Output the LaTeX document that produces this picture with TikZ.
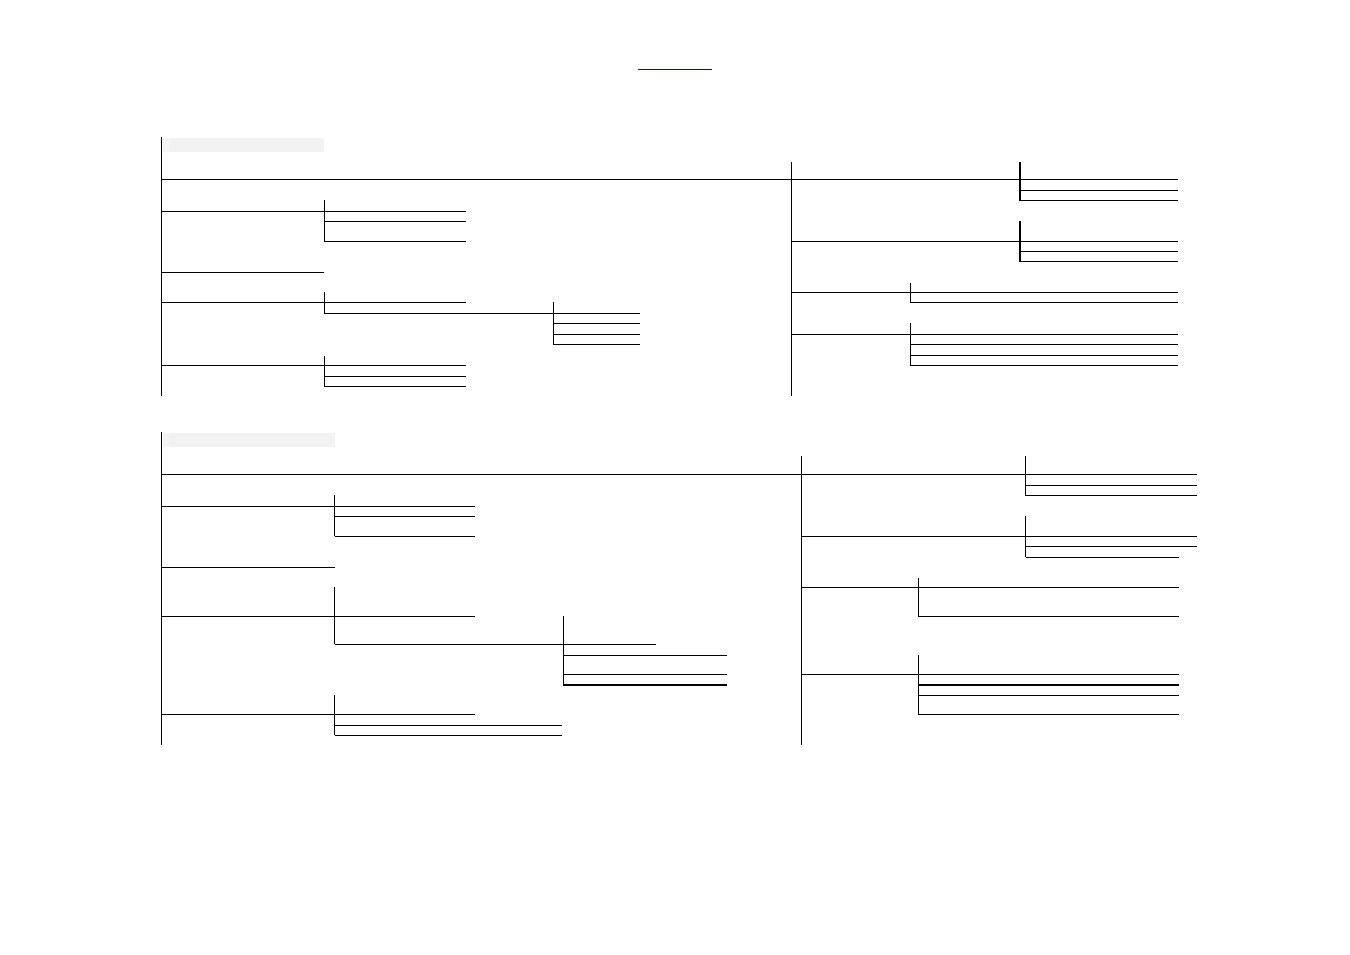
\documentclass[tikz,border=0pt]{standalone}
\begin{document}
\begin{tikzpicture}[x=1pt,y=-1pt,
  ln/.style={line width=1pt, black},
  thk/.style={line width=2pt, black},
  linkline/.style={line width=1.2pt, draw={rgb,255:red,0;green,0;blue,204}},
  greybar/.style={fill={rgb,255:red,242;green,242;blue,242}, draw=none},
  greylite/.style={fill={rgb,255:red,246;green,246;blue,246}, draw=none}]
\useasboundingbox (0,0) rectangle (1350,954);
% title underline
\draw[linkline] (638,69.3) -- (712,69.3);
% ===== Section 1 =====
\fill[greylite] (163,137.5) rectangle (170,151.5);
\fill[greybar] (170,137.5) rectangle (324,151.5);
\draw[ln] (161.5,137) -- (161.5,396);
\draw[ln] (161,179.3) -- (791,179.3);
\draw[ln] (161,211) -- (324,211);
\draw[ln] (324,200) -- (324,241);
\foreach \y in {211,221,241} \draw[ln] (324,\y) -- (465.5,\y);
\draw[ln] (161,272.3) -- (324,272.3);
\draw[ln] (161,302.3) -- (324,302.3);
\draw[ln] (324,291.7) -- (324,313.3);
\draw[ln] (324,302.3) -- (465.5,302.3);
\draw[ln] (324,313.3) -- (553.3,313.3);
\draw[ln] (553.3,302.3) -- (553.3,344.3);
\foreach \y in {313.3,323.3,334,344.3} \draw[ln] (553.3,\y) -- (639.5,\y);
\draw[ln] (161,365.7) -- (324,365.7);
\draw[ln] (324,355.7) -- (324,386.3);
\foreach \y in {365.7,376.3,386.3} \draw[ln] (324,\y) -- (465.5,\y);
% right
\draw[ln] (791,161.7) -- (791,395.7);
\draw[ln] (791,179.3) -- (1019.5,179.3);
\draw[thk] (1019.5,161.7) -- (1019.5,201);
\foreach \y in {179.3,190,200.5} \draw[ln] (1019.5,\y) -- (1178,\y);
\draw[ln] (791,241) -- (1019.5,241);
\draw[thk] (1019.5,221) -- (1019.5,262.2);
\foreach \y in {241,251,261.7} \draw[ln] (1019.5,\y) -- (1178,\y);
\draw[ln] (791,292.3) -- (910,292.3);
\draw[ln] (910,282.7) -- (910,302.3);
\foreach \y in {292.3,302.3} \draw[ln] (910,\y) -- (1178,\y);
\draw[ln] (791,334) -- (910,334);
\draw[ln] (910,323.3) -- (910,365.7);
\foreach \y in {334,344.3,355.3,365.7} \draw[ln] (910,\y) -- (1178,\y);
% ===== Section 2 =====
\fill[greylite] (163,432.5) rectangle (170,447);
\fill[greybar] (170,432.5) rectangle (335,447);
\draw[ln] (161.5,432) -- (161.5,745);
\draw[ln] (161,474.3) -- (801.7,474.3);
\draw[ln] (161,506) -- (334.5,506);
\draw[ln] (334.5,495) -- (334.5,536);
\foreach \y in {506,516,536} \draw[ln] (334.5,\y) -- (475,\y);
\draw[ln] (161,567.3) -- (334.5,567.3);
\draw[ln] (334.5,586.7) -- (334.5,644.3);
\draw[ln] (161,616.3) -- (334.5,616.3);
\draw[ln] (334.5,616.3) -- (475,616.3);
\draw[ln] (334.5,644.3) -- (563,644.3);
\draw[ln] (563,616) -- (563,685.7);
\draw[ln] (563,644.3) -- (656,644.3);
\draw[ln] (563,655.7) -- (727,655.7);
\draw[ln] (563,674.3) -- (727,674.3);
\draw[thk] (563,685) -- (727,685);
\draw[ln] (334.5,695) -- (334.5,735);
\draw[ln] (161,714.3) -- (334.5,714.3);
\draw[ln] (334.5,714.3) -- (475,714.3);
\draw[ln] (334.5,725) -- (562,725);
\draw[ln] (334.5,735) -- (562,735);
% right
\draw[ln] (801.7,456) -- (801.7,745);
\draw[ln] (801.7,474.3) -- (1025.7,474.3);
\draw[ln] (1025.7,456) -- (1025.7,495.7);
\foreach \y in {474.3,485,495.7} \draw[ln] (1025.7,\y) -- (1197,\y);
\draw[ln] (801.7,536) -- (1025.7,536);
\draw[ln] (1025.7,516) -- (1025.7,557.3);
\foreach \y in {536,546} \draw[ln] (1025.7,\y) -- (1197,\y);
\draw[ln] (1025.7,557.3) -- (1179,557.3);
\draw[ln] (801.7,587) -- (918,587);
\draw[ln] (918,578.3) -- (918,616.3);
\foreach \y in {587,616.3} \draw[ln] (918,\y) -- (1179,\y);
\draw[ln] (801.7,674.3) -- (918,674.3);
\draw[ln] (918,655.3) -- (918,714.3);
\foreach \y in {674.3,695.3,714.3} \draw[ln] (918,\y) -- (1179,\y);
\draw[thk] (918,684.7) -- (1179,684.7);
\end{tikzpicture}
\end{document}
